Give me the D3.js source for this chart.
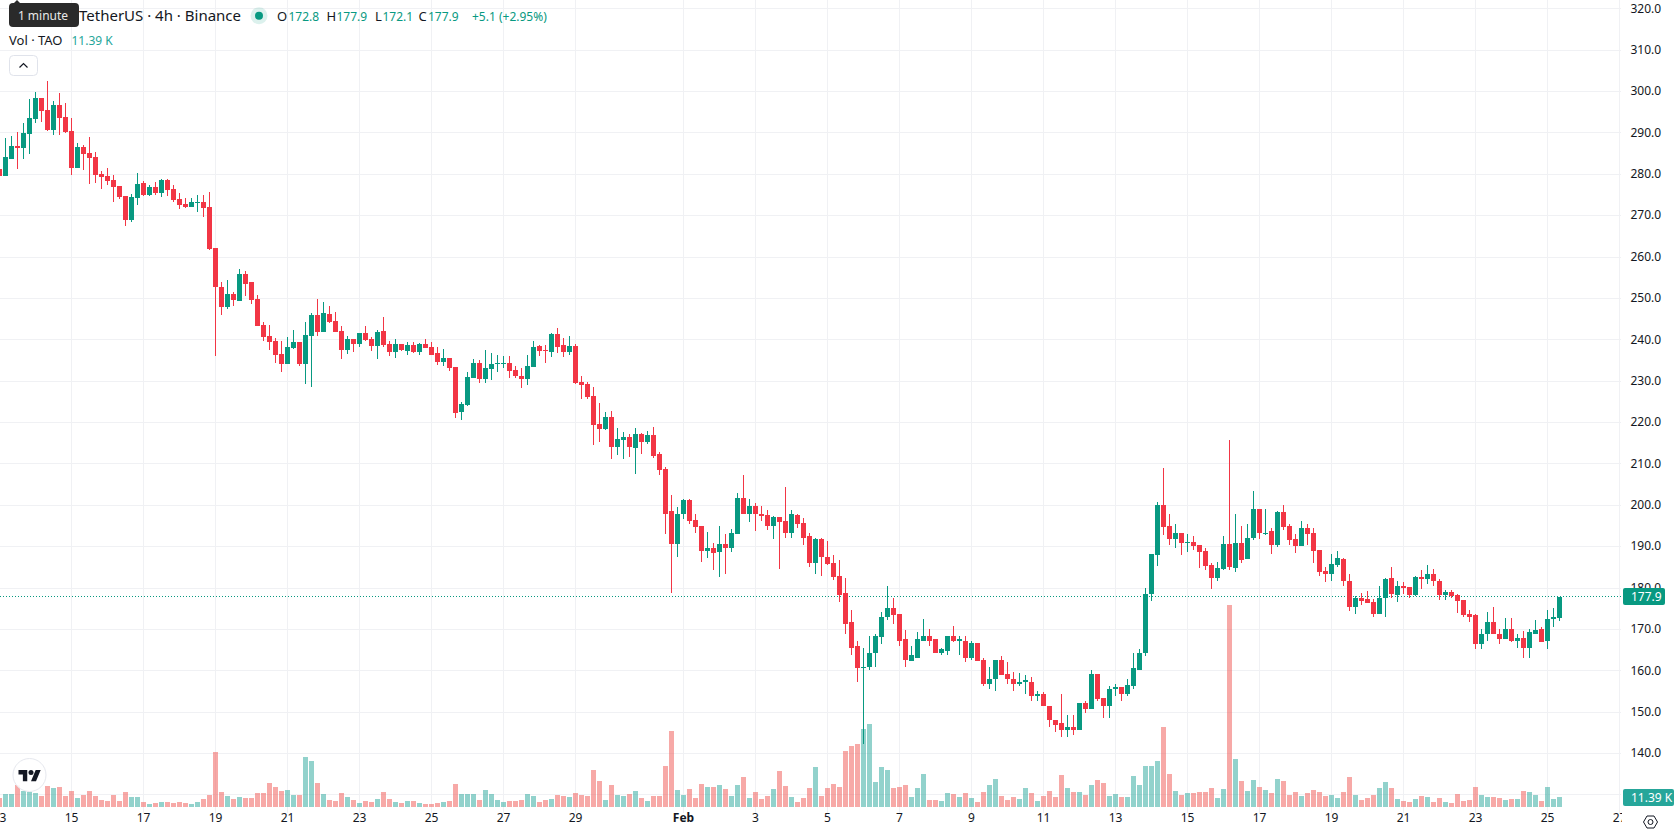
<!DOCTYPE html>
<html>
<head>
<meta charset="utf-8">
<title>TAO / TetherUS 4h</title>
<script src="https://cdn.jsdelivr.net/npm/d3@7/dist/d3.min.js"></script>
<style>
html,body{margin:0;padding:0;background:#fff;overflow:hidden}
svg{display:block}
text{font-family:"Noto Sans",sans-serif;fill:#131722}
</style>
</head>
<body>
<div id="chart"></div>
<script>
// 4h candles, first bar opens 13 Jan 00:00
const opens = [
281.2,279.6,283.8,286.8,286.3,289.7,293.3,298.4,295.5,290.7,
296.7,293.8,290.4,281.5,286.5,285.1,284.1,280,279.5,278.6,
277.1,274.7,268.9,274.2,277.8,274.9,276.9,275.4,278.6,276.4,
274,272.8,272,273.1,273.2,272,262.1,252.7,247.9,251,
249.3,256,253.9,249.8,243.5,240.8,239.6,236.5,234.1,238,
239.4,234.1,240.8,245.9,241.8,246.2,244.5,242,237.5,240.1,
238.9,241.6,240.1,238.4,242,238.9,237,238.9,237.2,238.7,
237,238.9,238.2,236.7,234.6,235.5,233.3,222.5,224.2,230.7,
234.3,230.4,232.9,234.1,234.3,234.5,232.6,231.2,230.4,233.3,
238.4,237.5,237,241.3,238.7,237,238.4,229.7,229.2,226.3,
219.6,218.4,221.3,214,215.7,216.4,213.8,217.1,215.2,216.9,
212.3,208.7,198.5,190.6,197.8,201.2,196.4,194.9,188.9,189.6,
188.6,190.6,189.6,193,201.7,197.8,199.7,198,197.6,194.9,
197.1,196.1,193.2,197.6,195.6,192.5,186,191.8,187.6,186,
183,178.7,171.7,165.9,160.6,161,164.2,168.1,172.9,175.1,
173.6,167.6,162.3,163.2,167.3,168.5,167.6,164.4,164.7,168.5,
167.3,167.3,163,166.8,162.5,156.7,157.9,162.5,159.3,158.1,
156.9,157.2,157.4,153.8,154.5,151.6,148.2,147.3,145.8,146.5,
145.8,152.3,150.7,159.1,153.3,151.4,155.7,156,154.3,156.2,
160.3,164.2,178.5,187.9,200,194.9,191.8,193.4,190.8,191,
190.3,188.9,185.5,182.3,184.5,190.6,184.8,190.8,186.9,192,
199,193.2,193.7,190.3,198.3,195.1,191.8,190.1,194.4,193.2,
189.1,184,183.3,185.5,186.9,181.8,175.3,177.7,177.3,176.5,
173.6,177.5,182.3,178.2,180.5,180.2,178.2,182.6,182.1,183.5,
181.8,178.2,179,178.2,177,173.6,173.4,166.4,168.8,171.7,
169,167.6,170,167.1,167.8,165.4,169,170,167.1,172.6,172.8];
const highs = [
283,288.7,289.2,290.2,292.3,298.1,299.8,298.4,302.5,297.7,
299.6,297.2,293.6,287.5,287,289,285.3,280.7,281.5,279.8,
277.1,274.7,275.2,280.3,278.3,277.4,278.1,278.8,278.8,277.4,
275.4,274.2,274.2,274.9,274.9,275.7,262.1,253.9,254.4,251.5,
257,256.5,253.9,250.8,244.2,243.5,240.4,239.6,240.6,242.3,
239.4,244.2,246.4,249.8,249.1,248.1,246.6,243.3,240.8,240.1,
241.6,243.3,240.6,242.3,245.4,239.6,240.1,238.9,239.4,239.4,
239.1,240.1,239.4,238.2,237.7,235.5,233.3,224.9,232.1,235.3,
235,237.5,236.7,236.2,236,236,233.6,233.1,236.2,239.6,
238.7,238.7,241.6,242.8,240.4,241,238.9,231.2,229.9,228.5,
224.6,222.5,222.9,218.6,217.6,217.1,218.6,217.4,217.9,218.8,
212.8,209.2,202.4,199.5,201.4,201.4,198,195.1,193.5,190.8,
194.9,193,194.2,202.9,207.2,201.4,200.5,199.7,198.8,197.3,
197.1,204.3,198.8,198,196.8,193.2,192,192,191.3,187.9,
186.7,182.3,174.6,167.1,165.6,168.5,169,174.1,180.6,177.5,
173.6,169.8,166.1,169.3,172.6,170.2,167.6,165.4,168.5,170.7,
168.5,168.3,167.1,166.8,163.2,160.8,162.7,163.5,162,159.8,
159.4,158.9,158.6,155,154.8,151.6,148.2,154.3,149.2,149.2,
152.3,152.8,160.1,159.1,153.5,156.2,156.9,156,157.9,164.4,
165.2,180.1,188.1,200.7,208.9,197.8,195.4,193.4,193,192.5,
190.5,189.6,186,186.2,192.5,215.7,198,194.9,195.4,203.4,
199,199.2,194.4,198.5,200,195.4,193,196.1,195.4,194.4,
189.3,185,188.1,188.9,187.2,183.3,178,178.7,179.2,177.3,
180.6,182.3,185,181.8,181.4,180.2,182.8,184.3,185.5,184.5,
182.1,179.4,179.4,178.5,177,174.8,173.6,170.2,174.1,175.3,
170.2,172.7,172.7,168.8,169.7,170.2,172.2,170.5,174.8,175.1,177.9];
const lows = [
279.6,279.6,283.6,281.3,283.6,284.9,292.3,292.6,290.4,289.4,
289.4,289.9,279.8,281.5,281,277.6,277.8,276.4,277.4,273.2,
274,267.4,268.4,272.5,274.7,274.7,274.9,274.5,274.7,273.2,
271.6,271.8,272,270.8,269.6,261.6,236,245.9,247.4,248.1,
249.3,250.5,248.6,243.3,239.6,237.5,234.3,232.1,234.1,237.7,
233.6,229.2,228.5,240.8,241.8,244,241.8,235.3,236.5,237,
238.2,239.6,237.2,235.3,238.2,236,235.5,237.2,236.3,236.7,
236.2,237.9,236.2,233.8,233.6,232.4,221,220.5,223.9,230.7,
229.5,229.5,230.2,232.1,233.1,230.7,230.7,228.3,229,233.3,
236,234.5,235.8,236.7,235.8,236.2,229.2,225.6,225.6,214.5,
215.2,218.1,211.1,212.1,211.1,211.6,207.5,212.3,214.7,211.3,
207.2,193,178.7,187.6,196.6,195.4,193.2,186.2,187.2,184.3,
182.6,183.3,188.6,193,197.8,195.9,193.7,196.1,193.9,191.8,
184.5,192,192,194.4,190.5,185,183.5,183,185.5,181.9,
176.5,168.8,163.7,157.2,142.3,160.1,161,166.4,172.2,171.4,
165.9,160.8,162.3,163.2,167.1,166.1,164.2,163.7,163.7,166.9,
163.7,162,162.5,162.3,156.2,155.5,155.2,158.9,156.9,155.2,
156.2,154.5,152.6,152.6,151.4,146.3,145.1,144.1,143.9,144.4,
145.8,149.9,150.7,152.6,148.7,148.7,153.8,152.8,153.8,155.5,
160.1,163.5,176.8,185.2,192.7,190.5,189.6,187.9,188.6,189.1,
184.8,184.3,179.7,181.6,184.3,184.3,183.8,186,186.9,191.5,
191.8,192.7,188.1,189.8,193.9,190.5,188.4,190.1,190.3,186,
182.8,181.4,181.8,185,180.4,174.4,173.6,176,176.3,173.1,
173.6,172.9,177.5,176.5,178.5,177.5,178,179.7,180.9,180.6,
177.2,177.2,177.7,173.9,173.1,171.7,165.2,165.2,167.3,168.8,
166.4,167.6,166.9,165.4,163.2,163.2,168.8,166.9,165.2,170.5,172.1];
const closes = [
279.6,284.1,286.8,286.3,289.9,293.6,298.4,295.2,290.7,296.7,
293.6,290.2,281.5,286.5,284.9,283.9,279.8,279.3,278.3,276.9,
274.5,268.9,274.5,277.6,274.9,276.9,275.4,278.6,276.1,273.7,
272.5,272,273.2,273.2,271.8,261.9,252.7,247.9,251,249.5,
255.8,253.4,249.5,243.3,240.6,239.4,236.2,234.1,238.2,239.4,
234.1,241.1,245.9,241.8,246.4,244.2,241.8,237.5,240.1,238.9,
241.6,239.9,238.4,241.8,238.7,237,238.9,237.5,238.7,237,
238.9,237.9,236.2,234.6,235.5,233.1,222.2,224.4,230.9,234.3,
230.4,233.1,234.1,234.3,234.5,232.4,231.2,230.4,233.6,238.2,
237.2,237.2,241.3,238.2,237,238.4,229.5,229,226.1,219.3,
218.4,221.3,214,215.9,216.4,214,217.1,215.2,216.9,211.8,
208.4,198,190.6,198,201.2,196.1,194.7,188.9,189.6,188.4,
190.6,189.6,193.2,201.7,197.8,199.7,198,197.3,194.9,197.1,
195.9,193.2,197.8,195.4,192.2,186,191.8,187.4,185.7,182.6,
178.2,171.4,165.6,160.6,161,164.2,168.3,173.1,175.1,173.4,
167.3,162.5,163.7,167.6,168.5,167.1,164.2,165.2,168.5,167.1,
167.6,163,166.8,162.3,156.7,158.1,162.5,158.9,157.9,156.9,
157.2,157.7,154,154.5,151.4,148,147,145.8,146.5,145.6,
152.3,150.7,159.1,153.1,151.4,155.7,156,154.3,156.5,160.6,
164.4,178.5,188.1,200,194.7,191.8,193.4,190.8,191,190.1,
188.6,185.2,182.3,184.8,190.6,185,190.8,186.7,192.2,199,
193.2,193.4,190.3,198.3,194.7,191.5,190.1,194.4,193,188.9,
183.8,183.3,185.7,187.2,181.6,175.3,177.7,176.8,176.3,173.6,
177.7,182.1,178.5,180.6,179.9,178.2,182.6,182.1,183.5,181.8,
178.2,179,178,176.8,173.4,173.1,166.4,169,171.7,169,
167.6,170,167.1,167.8,165.4,169.3,169.8,166.9,172.6,172.9,177.9];
// Traded volume per bar, thousands of TAO
const volumes = [
10.3,14.8,14.8,25.1,18.6,17.5,16,12.5,23.9,21.7,
22.8,12.5,18.2,10.3,13.7,18.2,12.5,8,6.8,13.7,
6.8,17.1,11.4,11.4,5.7,3.4,4.6,5.7,5.7,4.6,
5.7,4.6,3.4,5.7,9.1,13.7,62.7,17.1,12.5,9.1,
11.4,10.3,10.3,16,16,27.4,22.8,18.2,19.4,13.7,
13.7,57,52.4,27.4,14.8,8,6.8,16,11.4,8,
4.6,6.8,5.7,9.1,17.1,9.1,5.7,4.6,6.8,6.8,
4.6,3.4,3.4,4.6,5.7,6.8,26.2,14.8,14.8,14.8,
8,19.4,14.8,8,5.7,6.8,6.8,8,14.8,12.5,
5.7,8,9.1,13.7,12.5,11.4,16,13.7,12.5,42.2,
29.6,8,25.1,13.7,12.5,14.8,18.2,10.3,6.8,12.5,
12.5,46.7,86.6,19.4,13.7,20.5,10.3,26.2,22.8,22.8,
25.1,20.5,12.5,25.1,34.2,10.3,17.1,9.1,12.5,20.5,
41,23.9,11.4,5.7,10.3,21.7,45.6,12.5,21.7,26.2,
22.8,63.8,69.5,71.8,88.9,94.6,28.5,45.6,42.2,21.7,
22.8,25.1,11.4,21.7,37.6,8,8,6.8,16,14.8,
11.4,16,10.3,5.7,17.1,25.1,31.9,12.5,8,11.4,
9.1,21.7,16,6.8,12.5,18.2,11.4,36.5,21.7,17.1,
17.1,13.7,25.1,30.8,27.4,12.5,14.8,11.4,11.4,35.3,
25.1,46.7,46.7,52.4,91.2,37.6,18.2,13.7,16,16,
17.1,17.1,21.7,10.3,20.5,230,54.7,29.6,18.2,30.8,
22.8,19.4,16,31.9,29.6,13.7,17.1,12.5,16,19.4,
17.1,12.5,13.7,10.3,17.1,34.2,13.7,8,10.3,13.7,
21.7,28.5,21.7,9.1,6.8,5.7,9.1,12.5,11.4,5.7,
10.3,5.7,4.6,14.8,6.8,8,22.8,13.7,11.4,11.4,
10.3,8,9.1,9.1,18.2,17.1,13.7,6.8,22.8,9.1,11.39];

const priceGridValues = d3.range(130, 330, 10);
const priceLabelValues = d3.range(140, 330, 10);
const dateTicks = [
  "2025-01-13","2025-01-15","2025-01-17","2025-01-19","2025-01-21","2025-01-23",
  "2025-01-25","2025-01-27","2025-01-29","2025-02-01","2025-02-03","2025-02-05",
  "2025-02-07","2025-02-09","2025-02-11","2025-02-13","2025-02-15","2025-02-17",
  "2025-02-19","2025-02-21","2025-02-23","2025-02-25","2025-02-27"
].map(d => new Date(d + "T00:00:00Z"));

const lastPrice = closes[closes.length - 1];
const lastVolume = volumes[volumes.length - 1];
const UP = "#089981", DOWN = "#f23645";
const UP_VOL = "rgba(38,166,154,0.5)", DOWN_VOL = "rgba(239,83,80,0.5)";
const GRID = "#f0f1f4";
const PLOT_RIGHT = 1621, VOL_BASE = 807;
const FOUR_HOURS = 4 * 3600 * 1000;

const firstTime = dateTicks[0].getTime();
const candles = opens.map((o, i) => ({
  time: new Date(firstTime + i * FOUR_HOURS),
  open: o, high: highs[i], low: lows[i], close: closes[i], volume: volumes[i],
  up: closes[i] >= o
}));

const svg = d3.select("#chart").append("svg").attr("width", 1678).attr("height", 835);

const xScale = d3.scaleUtc()
  .domain([candles[0].time, candles[candles.length - 1].time])
  .range([-0.5, 1559.5]);
const yScale = d3.scaleLinear().domain([300, 140]).range([91.5, 753.5]);
const volScale = d3.scaleLinear().domain([0, 230]).range([VOL_BASE, VOL_BASE - 202]);

const defs = svg.append("defs");
defs.append("clipPath").attr("id", "plot")
  .append("rect").attr("x", 0).attr("y", 0).attr("width", PLOT_RIGHT).attr("height", 835);
defs.append("clipPath").attr("id", "timeaxis")
  .append("rect").attr("x", 0).attr("y", 0).attr("width", PLOT_RIGHT + 1).attr("height", 835);

// Grid
const grid = svg.append("g").attr("clip-path", "url(#plot)").attr("shape-rendering", "crispEdges");
grid.selectAll("line.h").data(priceGridValues).join("line").attr("class", "h")
  .attr("x1", 0).attr("x2", PLOT_RIGHT + 1)
  .attr("y1", d => Math.floor(yScale(d)) + 0.5).attr("y2", d => Math.floor(yScale(d)) + 0.5)
  .attr("stroke", GRID);
grid.selectAll("line.v").data(dateTicks).join("line").attr("class", "v")
  .attr("y1", 0).attr("y2", 813)
  .attr("x1", d => Math.floor(xScale(d)) + 0.5).attr("x2", d => Math.floor(xScale(d)) + 0.5)
  .attr("stroke", GRID);

// Volume bars sit underneath the candles
svg.append("g").attr("shape-rendering", "crispEdges")
  .selectAll("rect").data(candles).join("rect")
  .attr("x", d => Math.round(xScale(d.time) - 2.5))
  .attr("width", 5)
  .attr("y", d => Math.round(volScale(d.volume)))
  .attr("height", d => VOL_BASE - Math.round(volScale(d.volume)))
  .attr("fill", d => d.up ? UP_VOL : DOWN_VOL);

// Last price line
svg.append("line")
  .attr("x1", 0).attr("x2", PLOT_RIGHT)
  .attr("y1", Math.floor(yScale(lastPrice)) + 0.5).attr("y2", Math.floor(yScale(lastPrice)) + 0.5)
  .attr("stroke", UP).attr("stroke-dasharray", "1 2").attr("shape-rendering", "crispEdges");

// Candles
const candleG = svg.append("g").attr("shape-rendering", "crispEdges");
candleG.selectAll("rect.wick").data(candles).join("rect").attr("class", "wick")
  .attr("x", d => Math.round(xScale(d.time) - 0.5))
  .attr("width", 1)
  .attr("y", d => Math.round(yScale(d.high)))
  .attr("height", d => Math.max(1, Math.round(yScale(d.low)) - Math.round(yScale(d.high))))
  .attr("fill", d => d.up ? UP : DOWN);
candleG.selectAll("rect.body").data(candles).join("rect").attr("class", "body")
  .attr("x", d => Math.round(xScale(d.time) - 2.5))
  .attr("width", 5)
  .attr("y", d => Math.round(yScale(Math.max(d.open, d.close))))
  .attr("height", d => Math.max(1, Math.round(yScale(Math.min(d.open, d.close))) - Math.round(yScale(Math.max(d.open, d.close)))))
  .attr("fill", d => d.up ? UP : DOWN);

// Price axis
const priceAxis = d3.axisRight(yScale)
  .tickValues(priceLabelValues)
  .tickSize(0).tickPadding(9.5).offset(0)
  .tickFormat(d3.format(".1f"));
const priceG = svg.append("g").attr("transform", `translate(${PLOT_RIGHT},0)`).call(priceAxis);
priceG.select(".domain").remove();
priceG.selectAll("text").style("font-size", "12px").style("font-family", '"Noto Sans",sans-serif').attr("fill", "#131722");

// Date axis
const dateAxis = d3.axisBottom(xScale)
  .tickValues(dateTicks).tickSize(0).tickPadding(0).offset(0)
  .tickFormat(d => d.getUTCMonth() === 1 && d.getUTCDate() === 1 ? "Feb" : String(d.getUTCDate()));
const dateG = svg.append("g").attr("clip-path", "url(#timeaxis)")
  .append("g").attr("transform", "translate(0,813)").call(dateAxis);
dateG.select(".domain").remove();
dateG.selectAll("text").style("font-size", "12px").style("font-family", '"Noto Sans",sans-serif')
  .style("font-weight", d => d.getUTCMonth() === 1 && d.getUTCDate() === 1 ? 700 : 400)
  .attr("fill", "#131722");

// Right-hand value tags
const tagLayer = svg.append("g");
tagLayer.append("rect").attr("x", 1623).attr("y", 588).attr("width", 42).attr("height", 17)
  .attr("rx", 2).attr("fill", UP);
tagLayer.append("text").attr("x", 1631).attr("y", 600.5).style("font-size", "12px").style("fill", "#fff")
  .text(d3.format(".1f")(lastPrice));
tagLayer.append("rect").attr("x", 1623).attr("y", 789).attr("width", 51).attr("height", 17)
  .attr("rx", 2).attr("fill", "#26a69a");
tagLayer.append("text").attr("x", 1631).attr("y", 801.5).style("font-size", "12px").style("fill", "#fff")
  .text(lastVolume.toFixed(2) + " K");

// Settings hexagon in the axis corner
const corner = svg.append("g").attr("transform", "translate(1650.5,822)");
corner.append("path").attr("d", "M-7,0L-3.5,-6L3.5,-6L7,0L3.5,6L-3.5,6Z").attr("fill", "none").attr("stroke", "#131722");
corner.append("circle").attr("r", 2.5).attr("fill", "none").attr("stroke", "#131722");

// Legend
const legend = svg.append("g");
legend.append("text").attr("x", 241).attr("y", 21).attr("text-anchor", "end").style("font-size", "15px")
  .text("TAO / TetherUS · 4h · Binance");
legend.append("circle").attr("cx", 259).attr("cy", 15.7).attr("r", 8.5).attr("fill", "rgba(8,153,129,0.14)");
legend.append("circle").attr("cx", 259).attr("cy", 15.7).attr("r", 4).attr("fill", UP);
const last = candles[candles.length - 1];
const ohlc = [
  ["O", 277, 288.5, last.open], ["H", 326.5, 336.5, last.high],
  ["L", 375, 382.5, last.low], ["C", 418.5, 428, last.close]
];
ohlc.forEach(([k, kx, vx, v]) => {
  legend.append("text").attr("x", kx).attr("y", 20.5).style("font-size", "13px").text(k);
  legend.append("text").attr("x", vx).attr("y", 20.5).style("font-size", "12px").style("fill", UP).text(v.toFixed(1));
});
legend.append("text").attr("x", 472).attr("y", 20.5).style("font-size", "12px").style("fill", UP).text("+5.1 (+2.95%)");
legend.append("text").attr("x", 9).attr("y", 45).style("font-size", "13px").text("Vol · TAO");
legend.append("text").attr("x", 71.5).attr("y", 45).style("font-size", "12px").style("fill", "#26a69a")
  .text(lastVolume.toFixed(2) + " K");

// Collapse button
const btn = svg.append("g");
btn.append("rect").attr("x", 9.5).attr("y", 55.5).attr("width", 28).attr("height", 20).attr("rx", 4)
  .attr("fill", "#fff").attr("stroke", "#e0e3eb");
btn.append("path").attr("d", "M19.5,67.5L23.5,63.5L27.5,67.5").attr("fill", "none").attr("stroke", "#131722").attr("stroke-width", 1.2);

// Tooltip bubble over the legend
const tip = svg.append("g");
tip.append("path").attr("d", "M13,4L17,0L21,4Z").attr("fill", "#2a2a2a");
tip.append("rect").attr("x", 9).attr("y", 3).attr("width", 70).attr("height", 24).attr("rx", 4).attr("fill", "#2a2a2a");
tip.append("text").attr("x", 43).attr("y", 20).attr("text-anchor", "middle").style("font-size", "12px").style("fill", "#e8e8e8").text("1 minute");

// Attribution badge
const badge = svg.append("g");
badge.append("circle").attr("cx", 29.5).attr("cy", 775).attr("r", 16.5).attr("fill", "rgba(255,255,255,0.92)").attr("stroke", "#e6e8ee");
badge.append("g").attr("transform", "translate(18.5,767.5) scale(0.625)").append("path")
  .attr("d", "M14 22H7V11H0V4h14v18zM28 22h-8l7.5-18h8L28 22z").attr("fill", "#131722");
badge.append("circle").attr("cx", 18.5 + 20 * 0.625).attr("cy", 767.5 + 8 * 0.625).attr("r", 2.5).attr("fill", "#131722");
</script>
</body>
</html>
